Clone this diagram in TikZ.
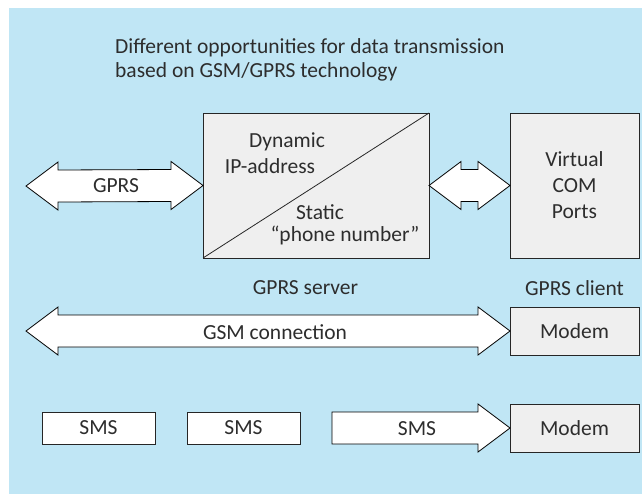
\documentclass[tikz,border=0pt]{standalone}
\usepackage{fontspec}
\setmainfont{Carlito}
\usetikzlibrary{positioning,calc}

\definecolor{panelblue}{RGB}{192,230,245}
\definecolor{boxgrey}{RGB}{239,239,239}
\definecolor{inkgrey}{RGB}{45,45,45}

\newcommand\txtsize{\fontsize{21.5}{24}\selectfont}

% block arrow with a head at both ends, from #1 to #2 (same height)
\newcommand\fatarrow[2]{%
    \draw[blockarrow] (#1) -- ++(32,-24) -- ++(0,8)
        -- ($(#2)+(-32,-16)$) -- ++(0,-8) -- (#2) -- ++(-32,24) -- ++(0,-8)
        -- ($(#1)+(32,16)$) -- ++(0,8) -- cycle;}

\tikzset{
    panel/.style={
        draw=black!85,
        line width=0.8pt,
        fill=boxgrey,
        align=center,
        inner sep=0pt,
        outer sep=0pt,
        text=inkgrey,
        font=\txtsize
    },
    smsbox/.style={
        panel,
        fill=white,
        minimum width=113pt,
        minimum height=32pt
    },
    blockarrow/.style={
        draw=black,
        fill=white,
        line width=0.8pt,
        line join=miter
    },
    lbl/.style={font=\txtsize, text=inkgrey, inner sep=0pt}
}

\begin{document}
\begin{tikzpicture}[x=1pt, y=-1pt, node distance=49pt and 81pt]
\useasboundingbox (0,0) rectangle (642,495);
\fill[panelblue] (9,8) rectangle (642,494);

\node[lbl, anchor=west, align=left] (title) at (115,60)
    {Different opportunities for data transmission\\based on GSM/GPRS technology};

% address box, split by its diagonal
\node[panel, minimum width=226pt, minimum height=145pt] (addr) at (316,185.5) {};
\draw[black!85, line width=0.8pt] (addr.south west) -- (addr.north east);
\node[lbl] (dyn) at (287,142) {Dynamic};
\node[lbl] (ip) at (270,166) {IP-address};
\node[lbl] (static) at (320,212) {Static};
\node[lbl] (phone) at (345,235) {“phone number”};

\node[panel, right=of addr, minimum width=129pt, minimum height=145pt] (com)
    {Virtual\\[2pt]COM\\[2pt]Ports};
\node[panel, below=of com, minimum width=129pt, minimum height=48pt] (gsmmodem) {Modem};
\node[panel, below=of gsmmodem, minimum width=129pt, minimum height=48pt] (smsmodem) {Modem};

\node[lbl, above=11pt of gsmmodem] (client) {GPRS client};
\node[lbl] (server) at (305.5,288) {GPRS server};

\coordinate (gprsend) at (26,186);
\coordinate (gsmend) at (26,331);
\coordinate (smstail) at (332,428);

% GPRS link and COM port link
\fatarrow{gprsend}{addr.west}
\node[lbl] (gprs) at (116,186) {GPRS};
\fatarrow{addr.east}{com.west}

% GSM connection to the modem
\fatarrow{gsmend}{gsmmodem.west}
\node[lbl] (gsm) at (275,332) {GSM connection};

% SMS sequence
\node[smsbox] (sms1) at (98.5,428) {SMS};
\node[smsbox, right=32pt of sms1] (sms2) {SMS};
\draw[blockarrow] ($(smstail)+(0,-16)$) -- ($(smsmodem.west)+(-32,-16)$) -- ++(0,-8)
    -- (smsmodem.west) -- ++(-32,24) -- ++(0,-8) -- ($(smstail)+(0,16)$) -- cycle;
\node[lbl] (sms3) at (417,429) {SMS};

\end{tikzpicture}
\end{document}
